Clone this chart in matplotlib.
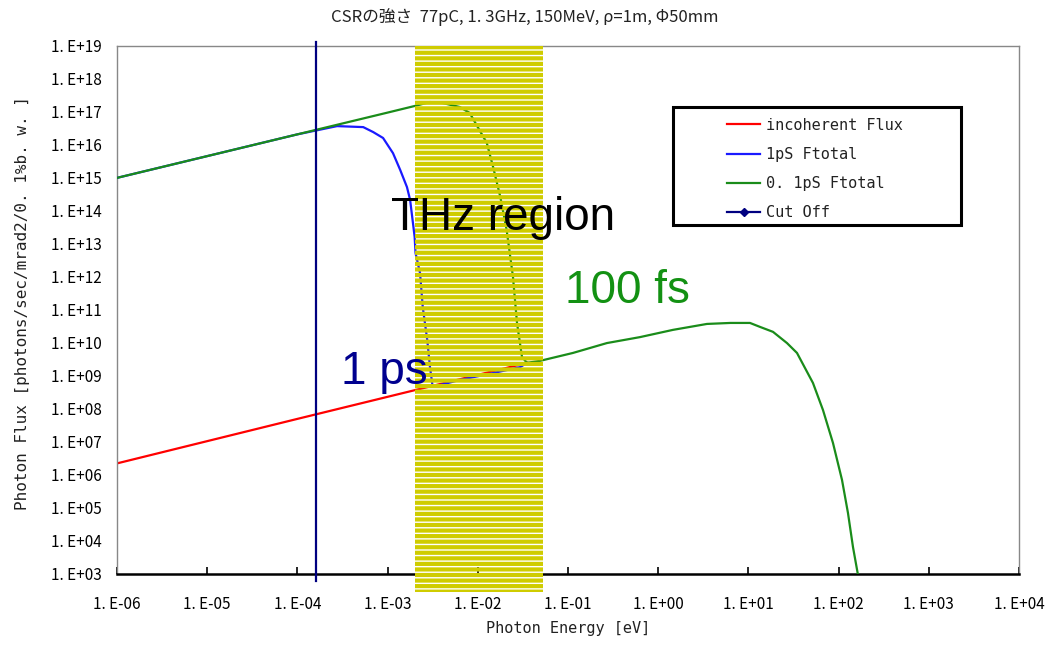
import matplotlib
matplotlib.use("Agg")
import matplotlib.pyplot as plt
from matplotlib.lines import Line2D
from matplotlib.patches import Rectangle
import numpy as np

plt.rcParams["font.family"] = ["Noto Sans CJK JP", "DejaVu Sans"]
plt.rcParams["hatch.linewidth"] = 3.0

# data (log10 of energy [eV], log10 of flux)
incoh_logE = [-6.0, -4.0, -2.70, -1.45]
incoh_logF = [6.34, 7.69, 8.56, 9.39]

ps1_logE = [-6.0, -5.0, -4.0, -3.56, -3.27, -3.16, -3.05, -2.94, -2.86, -2.785,
            -2.75, -2.70, -2.69, -2.64, -2.61, -2.56, -2.53, -2.50, -2.20, -1.83,
            -1.53, -1.455]
ps1_logF = [15.00, 15.66, 16.32, 16.57, 16.54, 16.39, 16.21, 15.75, 15.24, 14.72,
            14.33, 13.21, 12.72, 12.11, 11.08, 10.08, 9.26, 8.66, 8.87, 9.08,
            9.26, 9.39]

fs100_logE = [-6.0, -5.0, -4.0, -3.0, -2.70, -2.53, -2.39, -2.20, -2.09, -1.90,
              -1.83, -1.75, -1.68, -1.61, -1.565, -1.51, -1.455, -1.31, -0.945,
              -0.568, -0.202, 0.164, 0.541, 0.80, 1.018, 1.129, 1.273, 1.428,
              1.539, 1.716, 1.827, 1.938, 2.038, 2.104, 2.160, 2.215]
fs100_logF = [15.00, 15.66, 16.32, 16.98, 17.18, 17.30, 17.27, 17.15, 16.97, 16.06,
              15.33, 14.42, 13.42, 12.00, 10.60, 9.57, 9.39, 9.45, 9.69,
              9.99, 10.17, 10.39, 10.57, 10.60, 10.60, 10.48, 10.33, 9.99,
              9.69, 8.78, 7.96, 6.96, 5.84, 4.84, 3.80, 2.96]

cutoff_E = 1.62e-4
thz_band = (2.01e-3, 5.28e-2)

x_exps = list(range(-6, 5))
y_exps = list(range(3, 20))

title = "CSRの強さ  77pC, 1. 3GHz, 150MeV, ρ=1m, Φ50mm"
labels = ["incoherent Flux", "1pS Ftotal", "0. 1pS Ftotal", "Cut Off"]

fig = plt.figure(figsize=(10.52, 6.46), dpi=100)
ax = fig.add_axes([0.1112, 0.1122, 0.8574, 0.8166])

c_red, c_blue, c_green, c_navy = "#ff0000", "#1a1aff", "#1a8c1a", "#000080"

ax.plot(10 ** np.array(incoh_logE), 10 ** np.array(incoh_logF), color=c_red, lw=1.6, zorder=2)
ax.plot(10 ** np.array(ps1_logE), 10 ** np.array(ps1_logF), color=c_blue, lw=1.6, zorder=3)
ax.plot(10 ** np.array(fs100_logE), 10 ** np.array(fs100_logF), color=c_green, lw=1.6, zorder=4)
ax.axvline(cutoff_E, ymin=-0.015, ymax=1.008, color=c_navy, lw=1.6, clip_on=False, zorder=4)

# THz region: yellow stripes over the curves
ax.axvspan(thz_band[0], thz_band[1], ymin=-0.035, ymax=1.0, facecolor="none",
           edgecolor="#cfcc00", hatch="---", lw=0, clip_on=False, zorder=5)

ax.set_xscale("log")
ax.set_yscale("log")
ax.set_xlim(10.0 ** x_exps[0], 10.0 ** x_exps[-1])
ax.set_ylim(10.0 ** y_exps[0], 10.0 ** y_exps[-1])
ax.set_xticks([10.0 ** k for k in x_exps])
ax.set_xticklabels([f"1. E{k:+03d}" for k in x_exps])
ax.set_yticks([10.0 ** k for k in y_exps])
ax.set_yticklabels([f"1. E{k:+03d}" for k in y_exps])
ax.minorticks_off()
ax.tick_params(axis="x", direction="in", length=5, width=1.2, pad=16, labelsize=11)
ax.tick_params(axis="y", length=0, pad=11, labelsize=11)

for side in ["left", "top", "right"]:
    ax.spines[side].set_color("#888888")
    ax.spines[side].set_linewidth(1.0)
ax.spines["bottom"].set_color("black")
ax.spines["bottom"].set_linewidth(1.8)

mono = ["DejaVu Sans Mono"]
ax.set_xlabel("Photon Energy [eV]", family=mono, fontsize=11, color="#222222", labelpad=6)
fig.text(0.021, 0.531, "Photon Flux [photons/sec/mrad2/0. 1%b. w. ]", family=mono,
         fontsize=11.5, color="#222222", rotation=90, ha="center", va="center")
fig.text(0.499, 0.974, title, fontsize=12, ha="center", va="center", color="#222222")

big = ["Liberation Sans", "DejaVu Sans"]
ax.text(1.9e-2, 6e13, "THz region", family=big, fontsize=33, color="black",
        ha="center", va="center", zorder=6)
ax.text(0.46, 3.7e11, "100 fs", family=big, fontsize=33, color="#139113",
        ha="center", va="center", zorder=6)
ax.text(9.1e-4, 1.3e9, "1 ps", family=big, fontsize=33, color="#00008f",
        ha="center", va="center", zorder=6)

# legend box
ax.add_patch(Rectangle((0.616, 0.661), 0.320, 0.224, transform=ax.transAxes,
                       facecolor="white", edgecolor="black", lw=2.2, zorder=7))
handles = [Line2D([], [], color=c_red, lw=1.6),
           Line2D([], [], color=c_blue, lw=1.6),
           Line2D([], [], color=c_green, lw=1.6),
           Line2D([], [], color=c_navy, lw=1.6, marker="D", markersize=4)]
leg = ax.legend(handles, labels, loc="upper left", bbox_to_anchor=(0.676, 0.864),
                frameon=False, prop={"family": mono, "size": 11}, handlelength=2.2,
                handletextpad=0.4, labelspacing=0.93, borderpad=0, borderaxespad=0)
leg.set_zorder(8)
for t in leg.get_texts():
    t.set_color("#222222")

fig.savefig("out.png", dpi=100)
